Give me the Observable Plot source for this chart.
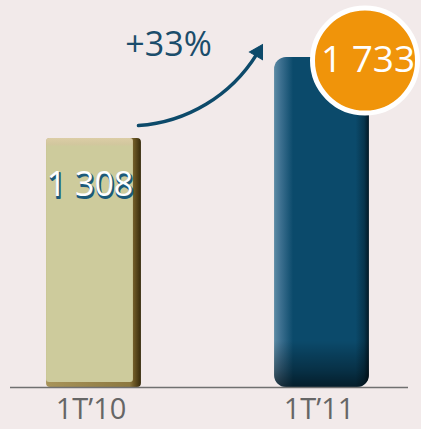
<!DOCTYPE html>
<html><head><meta charset="utf-8">
<script src="https://cdn.jsdelivr.net/npm/d3@7"></script>
<script src="https://cdn.jsdelivr.net/npm/@observablehq/plot@0.6"></script>
<style>html,body{margin:0;padding:0;background:#f2eaea;overflow:hidden;}</style>
</head><body><div id="chart"></div>
<script>
// ---- data ----
const categories = ["1T’10", "1T’11"];
const values = [1308, 1733];
const valueLabels = ["1 308", "1 733"];
const growthLabel = ["+33%"];
// annotation arrow, in data units (x = category index, y = value)
const arrowFrom = [0.195, 1376];
const arrowTo = [0.7127, 1749];
const arrowHeadAt = [0.720, 1762];
const growthLabelAt = [0.327, 1801];

const data = categories.map((c, i) => ({i, category: c, value: values[i], label: valueLabels[i]}));
const half = 0.208;

const plot = Plot.plot({
  width: 421, height: 429,
  marginLeft: 10, marginRight: 13, marginTop: 0, marginBottom: 42,
  style: {background: "#f2eaea", fontFamily: "'Open Sans', sans-serif", overflow: "visible"},
  x: {domain: [-0.3662, 1.3794]},
  y: {domain: [0, 2033], axis: null},
  marks: [
    // bar 1 : khaki with dark bevel
    Plot.rectY([data[0]], {x1: d => d.i - half, x2: d => d.i + half, y: "value", fill: "url(#side1)", rx: 4}),
    Plot.rectY([data[0]], {x1: d => d.i - half, x2: d => d.i + half, y: "value", fill: "url(#face1)", insetRight: 8, insetBottom: 5, rx: 3}),
    // bar 2 : dark teal, rounded
    Plot.rectY([data[1]], {x1: d => d.i - half, x2: d => d.i + half, y: "value", fill: "url(#face2)", rx: 12}),
    Plot.rectY([data[1]], {x1: d => d.i - half, x2: d => d.i + half, y: "value", fill: "url(#shade2)", rx: 12}),
    // baseline
    Plot.ruleY([0], {stroke: "#707070", strokeWidth: 1.5}),
    // axis labels
    Plot.axisX({ticks: [0, 1], tickFormat: i => categories[i], tickSize: 0, tickPadding: 11, fontSize: 29, color: "#666", label: null, dx: -3}),
    // value label bar 1 (white with teal shadow)
    Plot.text([data[0]], {x: "i", y: "value", text: "label", dx: -3, dy: 48.5, fontSize: 34, fill: "#1b5a7a", stroke: "#1b5a7a", strokeWidth: 1.8}),
    Plot.text([data[0]], {x: "i", y: "value", text: "label", dx: -4, dy: 47, fontSize: 34, fill: "white"}),
    // growth arrow
    Plot.arrow([{x1: arrowFrom[0], y1: arrowFrom[1], x2: arrowTo[0], y2: arrowTo[1]}], {x1: "x1", y1: "y1", x2: "x2", y2: "y2", bend: -27, stroke: "#0d4a6a", strokeWidth: 3.5, headLength: 0}),
    Plot.dot([{x: arrowHeadAt[0], y: arrowHeadAt[1]}], {x: "x", y: "y", symbol: "triangle", r: 5.6, rotate: 30, fill: "#0d4a6a", stroke: "#0d4a6a", strokeWidth: 1}),
    Plot.text([{x: growthLabelAt[0], y: growthLabelAt[1], t: growthLabel[0]}], {x: "x", y: "y", text: "t", fontSize: 34, fill: "#1b4d6b"}),
    // bubble for bar 2
    Plot.dot([data[1]], {x: "i", y: "value", r: 52.5, fill: "#f0940a", stroke: "white", strokeWidth: 5, dx: 43, dy: 3}),
    Plot.text([data[1]], {x: "i", y: "value", text: "label", dx: 46, dy: 3, fontSize: 37, fill: "white"})
  ]
});

const defs = d3.select(plot).insert("defs", ":first-child");
function grad(id, stops, vertical) {
  const g = defs.append("linearGradient").attr("id", id)
    .attr("x1", 0).attr("y1", 0).attr("x2", vertical ? 0 : 1).attr("y2", vertical ? 1 : 0);
  stops.forEach(([o, c, a]) => g.append("stop").attr("offset", o).attr("stop-color", c).attr("stop-opacity", a == null ? 1 : a));
}
grad("side1", [[0, "#a8945a"], [0.88, "#8c7840"], [0.93, "#6a5624"], [1, "#35290b"]]);
grad("face1", [[0, "#dccda6"], [0.025, "#d2c79e"], [0.035, "#cdcb9c"], [1, "#cdcb9c"]], true);
grad("face2", [[0, "#5d8ba4"], [0.07, "#3d7090"], [0.2, "#0b4a6b"], [0.86, "#0b4a6b"], [0.95, "#07354d"], [1, "#021824"]]);
grad("shade2", [[0, "#000", 0], [0.86, "#000", 0], [0.95, "#000", 0.35], [1, "#000", 0.6]], true);

document.getElementById("chart").appendChild(plot);
</script>
</body></html>
